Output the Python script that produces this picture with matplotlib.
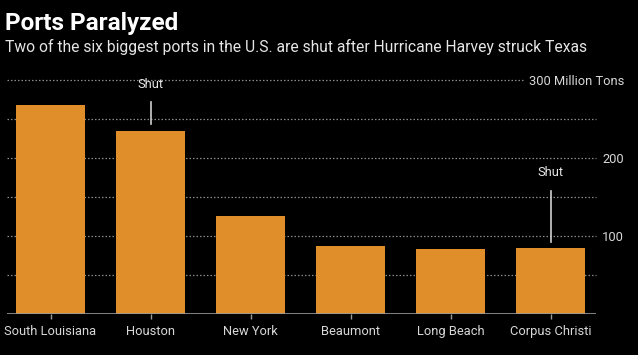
import matplotlib
matplotlib.use("Agg")
import matplotlib.pyplot as plt

ports = ['South Louisiana', 'Houston', 'New York', 'Beaumont', 'Long Beach', 'Corpus Christi']
tonnage = [268, 235, 126, 87, 84, 85]
y_ticks = [100, 200, 300]
y_tick_labels = ['100', '200', '300 Million Tons']
grid_values = [50, 100, 150, 200, 250, 300]
shut_ports = ['Houston', 'Corpus Christi']
title = 'Ports Paralyzed'
subtitle = 'Two of the six biggest ports in the U.S. are shut after Hurricane Harvey struck Texas'

plt.rcParams['font.family'] = ['Roboto', 'DejaVu Sans']

W, H = 638, 355
fig = plt.figure(figsize=(W / 100, H / 100), dpi=100, facecolor='black')
renderer = fig.canvas.get_renderer()


def fit_size(text, target_px, weight='normal', base=10.0):
    t = fig.text(0, 0, text, fontsize=base, fontweight=weight)
    w = t.get_window_extent(renderer=renderer).width
    t.remove()
    return base * target_px / w


lab_fs = fit_size('South Louisiana', 92)
title_fs = fit_size(title, 173, weight='bold')
sub_fs = fit_size(subtitle, 582)

left_px, right_px, top_px, bottom_px = 7, 596, 80, 314.3
ax = fig.add_axes([left_px / W, (H - bottom_px) / H, (right_px - left_px) / W, (bottom_px - top_px) / H])
ax.set_facecolor('black')

x = list(range(len(ports)))
ax.bar(x, tonnage, width=0.69, color='#E08E2A', zorder=2)
ax.set_xlim((left_px - 50.5) / 100, (right_px - 50.5) / 100)
ax.set_ylim(0, 300)

grid_color = '#8a8a8a'
for g in grid_values:
    xmax = 0.876 if g == 300 else 1.0
    ax.axhline(g, xmin=0, xmax=xmax, color=grid_color, lw=0.9, ls=(0, (1.2, 1.6)), zorder=1, clip_on=False)
ax.axhline(0, color='#9a9a9a', lw=1.2, zorder=3)

for s in ax.spines.values():
    s.set_visible(False)

ax.set_xticks(x)
ax.set_xticklabels(ports, color='#d8d8d8', fontsize=lab_fs)
ax.tick_params(axis='x', length=3.5, width=1, color='#9a9a9a', pad=4)

ax.yaxis.tick_right()
ax.set_yticks(y_ticks)
ax.set_yticklabels(y_tick_labels, color='#d8d8d8', fontsize=lab_fs)
ax.tick_params(axis='y', length=0, pad=20.2)
for lbl in ax.get_yticklabels():
    lbl.set_horizontalalignment('right')

# Shut annotations
offsets = {'Houston': (9, 37, 59), 'Corpus Christi': (8, 73, 96)}
for p in shut_ports:
    i = ports.index(p)
    v = tonnage[i]
    lo, hi, tx = offsets[p]
    ax.plot([i, i], [v + lo, v + hi], color='#cfcfcf', lw=1.2, zorder=4, clip_on=False)
    ax.text(i, v + tx, 'Shut', color='#e8e8e8', fontsize=lab_fs, ha='center', va='center', clip_on=False)

fig.text(5 / W, 1 - 30 / H, title, color='white', fontsize=title_fs, fontweight='bold', ha='left', va='baseline')
fig.text(5 / W, 1 - 51.7 / H, subtitle, color='#e6e6e6', fontsize=sub_fs, ha='left', va='baseline')

fig.savefig('out.png', dpi=100, facecolor='black')
